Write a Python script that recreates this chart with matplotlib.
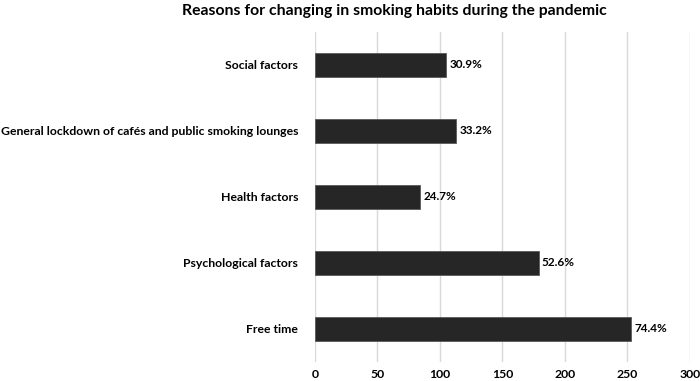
import matplotlib
matplotlib.use("Agg")
import matplotlib.pyplot as plt

plt.rcParams["font.family"] = ["Lato", "DejaVu Sans"]

reasons = [
    "Free time",
    "Psychological factors",
    "Health factors",
    "General lockdown of cafés and public smoking lounges",
    "Social factors",
]
counts = [253, 179, 84, 113, 105]
pct_labels = ["74.4%", "52.6%", "24.7%", "33.2%", "30.9%"]
xticks = [0, 50, 100, 150, 200, 250, 300]

fig = plt.figure(figsize=(7.0, 3.81), dpi=100)
ax = fig.add_axes([0.45, 0.05, 0.5357, 0.866])

ypos = range(len(reasons))
bars = ax.barh(ypos, counts, height=0.36, color="#262626", edgecolor="#595959",
               linewidth=0.6, zorder=3)
for b, lab in zip(bars, pct_labels):
    ax.text(b.get_width() + 2.5, b.get_y() + b.get_height() / 2, lab,
            va="center", ha="left", fontsize=8.5, fontweight="bold", color="black")

ax.set_xlim(0, 300)
ax.set_ylim(-0.5, len(reasons) - 0.5)
ax.set_xticks(xticks)
ax.set_yticks(list(ypos))
ax.set_yticklabels(reasons)
ax.grid(axis="x", color="#d9d9d9", linewidth=1, zorder=0)
for s in ax.spines.values():
    s.set_visible(False)
ax.tick_params(axis="both", length=0, labelsize=8.8)
ax.tick_params(axis="x", pad=5)
ax.tick_params(axis="y", pad=12)
for t in ax.get_xticklabels() + ax.get_yticklabels():
    t.set_fontweight("bold")

fig.text(0.564, 0.972, "Reasons for changing in smoking habits during the pandemic",
         ha="center", va="center", fontsize=11.3, fontweight="bold")

fig.savefig("out.png", dpi=100)
